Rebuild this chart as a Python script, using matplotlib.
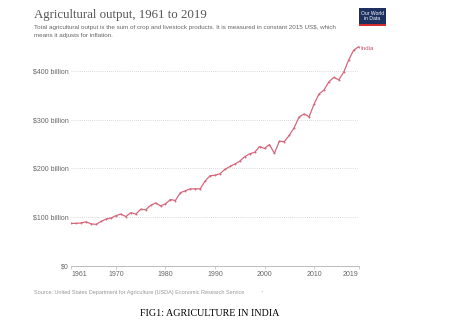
import matplotlib
matplotlib.use("Agg")
import matplotlib.pyplot as plt
from matplotlib.patches import Rectangle

years = list(range(1961, 2020))
output_bn = [87, 87, 88, 90, 86, 85, 91, 96, 98, 103,
             106, 101, 109, 106, 116, 115, 124, 129, 123, 127,
             136, 134, 150, 154, 158, 158, 158, 174, 185, 186,
             189, 198, 204, 209, 215, 224, 230, 233, 245, 241,
             249, 231, 256, 255, 268, 284, 306, 312, 306, 332,
             353, 361, 378, 387, 382, 398, 423, 443, 450]
yticks = [0, 100, 200, 300, 400]
ytick_labels = ["$0", "$100 billion", "$200 billion", "$300 billion", "$400 billion"]
xticks = [1961, 1970, 1980, 1990, 2000, 2010, 2019]
series_name = "India"

W, H = 449, 326
fig = plt.figure(figsize=(W / 100, H / 100), dpi=100)
fig.patch.set_facecolor("white")

left_px, right_px = 71.4, 358.6
zero_px = 265.7
ymax = 455
px_per_unit = 0.4865
top_px = zero_px - ymax * px_per_unit
ax = fig.add_axes([left_px / W, 1 - zero_px / H, (right_px - left_px) / W, (zero_px - top_px) / H])

line_color = "#d6687c"
ax.plot(years, output_bn, color=line_color, lw=0.9, marker="o", ms=1.4, mew=0, zorder=3)
ax.set_xlim(1961, 2019)
ax.set_ylim(0, ymax)

for s in ["top", "right", "left"]:
    ax.spines[s].set_visible(False)
ax.spines["bottom"].set_color("#bbbbbb")
ax.spines["bottom"].set_linewidth(0.7)

ax.set_yticks(yticks)
ax.set_yticklabels(ytick_labels, fontsize=5, color="#666666", family="Liberation Sans")
ax.tick_params(axis="y", length=0, pad=2)
for v in yticks[1:]:
    ax.axhline(v, color="#cccccc", lw=0.6, ls=(0, (1, 1.5)), zorder=1)

ax.set_xticks(xticks)
ax.set_xticklabels([str(x) for x in xticks], fontsize=5, color="#666666", family="Liberation Sans")
ax.tick_params(axis="x", length=2, width=0.5, color="#bbbbbb", pad=2)
xl = ax.get_xticklabels()
xl[0].set_ha("left")
xl[-1].set_ha("right")

ax.text(years[-1] + 0.4, output_bn[-1] - 3, series_name, fontsize=4.5, color="#c95a6e",
        family="Liberation Sans", va="center", ha="left", clip_on=False)

fig.text(34 / W, 1 - 18 / H, "Agricultural output, 1961 to 2019", fontsize=9.3,
         family="Liberation Serif", color="#555555", va="baseline", ha="left")
fig.text(34 / W, 1 - 28.5 / H,
         "Total agricultural output is the sum of crop and livestock products. It is measured in constant 2015 US$, which",
         fontsize=4.5, family="Liberation Sans", color="#666666", va="baseline", ha="left")
fig.text(34 / W, 1 - 36.5 / H, "means it adjusts for inflation.",
         fontsize=4.5, family="Liberation Sans", color="#666666", va="baseline", ha="left")

# logo
fig.patches.append(Rectangle((359 / W, 1 - 25.5 / H), 27 / W, 17.5 / H,
                             transform=fig.transFigure, facecolor="#1d3060", edgecolor="none"))
fig.patches.append(Rectangle((359 / W, 1 - 25.5 / H), 27 / W, 1.6 / H,
                             transform=fig.transFigure, facecolor="#d42b2b", edgecolor="none"))
fig.text(372.5 / W, 1 - 16 / H, "Our World\nin Data", fontsize=3.6, family="Liberation Sans",
         color="white", ha="center", va="center", linespacing=1.0)

fig.text(34 / W, 1 - 294 / H,
         "Source: United States Department for Agriculture (USDA) Economic Research Service",
         fontsize=3.95, family="Liberation Sans", color="#999999", va="baseline", ha="left")
fig.text(260 / W, 1 - 294 / H, "\u2022", fontsize=3, family="DejaVu Sans", color="#aaaaaa",
         va="baseline", ha="left")

fig.text(210 / W, 1 - 316 / H, "FIG1: AGRICULTURE IN INDIA", fontsize=7.2,
         family="Liberation Serif", color="black", va="baseline", ha="center")

fig.savefig("out.png", dpi=100, facecolor="white")
